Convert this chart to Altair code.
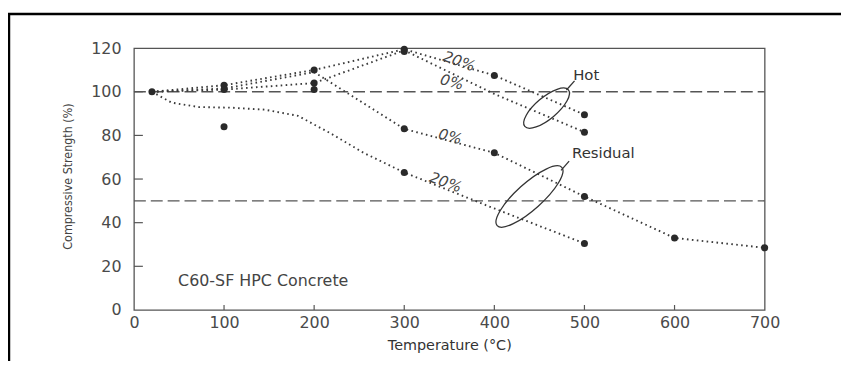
import altair as alt
import pandas as pd

# ---- data ----
hot20_t = [20, 100, 200, 300, 400, 500]
hot20_s = [100, 103, 110, 119.5, 107.5, 89.5]
hot0_t = [20, 100, 200, 300, 400, 500]
hot0_s = [100, 101, 104, 119, 99, 81.5]
res0_t = [20, 100, 200, 300, 400, 500, 600, 700]
res0_s = [100, 101.5, 109, 83, 72, 52, 33, 28.5]
res20_t = [20, 42, 72, 108, 145, 182, 218, 255, 300, 400, 500]
res20_s = [100, 95, 93, 92.7, 91.8, 89, 81, 72, 63, 46.5, 30.5]

dot_t = [20, 100, 100, 100, 200, 200, 200, 300, 300, 300, 300, 400, 400, 500, 500, 500, 500, 600, 700]
dot_s = [100, 103, 101, 84, 110, 104, 101, 119.5, 118.5, 83, 63, 107.5, 72, 89.5, 81.5, 52, 30.5, 33, 28.5]

ref_levels = [100, 50]

x_ticks = [0, 100, 200, 300, 400, 500, 600, 700]
y_ticks = [0, 20, 40, 60, 80, 100, 120]

pct_text = ["20%", "0%", "0%", "20%"]
pct_t = [361, 353, 351, 346]
pct_s = [114, 104.5, 79.5, 58.5]
pct_angle = [20, 15, 15, 20]

group_text = ["Hot", "Residual"]
group_t = [502, 521]
group_s = [107.5, 72]

ell_hot_t, ell_hot_s = [458], [92.5]
ell_res_t, ell_res_s = [439], [52]

lead_t = [480, 474]
lead_t2 = [489, 483]
lead_s = [100.8, 64]
lead_s2 = [105, 68.2]

note = "C60-SF HPC Concrete"
note_t, note_s = [49], [13.3]

W, H = 636, 264
INK = "#3a3a3a"

# ---- tables ----
rows = []
for name, ts, ss in [("hot20", hot20_t, hot20_s), ("hot0", hot0_t, hot0_s),
                     ("res0", res0_t, res0_s), ("res20", res20_t, res20_s)]:
    for i, (t, s) in enumerate(zip(ts, ss)):
        rows.append({"series": name, "T": t, "S": s, "o": i})
lines_df = pd.DataFrame(rows)
dots_df = pd.DataFrame({"T": dot_t, "S": dot_s})
ref_df = pd.DataFrame({"S": ref_levels, "T": [0, 0], "T2": [700, 700]})
pct_df = pd.DataFrame({"txt": pct_text, "T": pct_t, "S": pct_s, "a": pct_angle})
grp_df = pd.DataFrame({"txt": group_text, "T": group_t, "S": group_s})
lead_df = pd.DataFrame({"T": lead_t, "T2": lead_t2, "S": lead_s, "S2": lead_s2})
note_df = pd.DataFrame({"txt": [note], "T": note_t, "S": note_s})
xt_df = pd.DataFrame({"T": x_ticks[1:-1]})
yt_df = pd.DataFrame({"S": y_ticks[1:-1]})

xs = alt.Scale(domain=[0, 700], nice=False, zero=False)
ys = alt.Scale(domain=[0, 120], nice=False, zero=False)
xax = alt.Axis(values=x_ticks, title="Temperature (°C)", grid=False, ticks=False, tickSize=0,
               domain=False, labelFont="DejaVu Sans", labelFontSize=16, labelColor="#4a4a4a",
               labelPadding=5, labelFlush=False, labelOverlap=False, format="d",
               titleFont="DejaVu Sans", titleFontSize=14.5, titleFontWeight="normal",
               titleColor="#333", titleBaseline="middle", titleY=36)
yax = alt.Axis(values=y_ticks, title="Compressive Strength (%)", grid=False, ticks=False, tickSize=0,
               domain=False, labelFont="DejaVu Sans", labelFontSize=16, labelColor="#4a4a4a",
               labelPadding=13, labelFlush=False, labelOverlap=False, format="d",
               titleFont="Liberation Sans Narrow, DejaVu Sans Condensed, Liberation Sans, Arial, sans-serif",
               titleFontSize=12.5, titleFontWeight="normal",
               titleColor="#444", titleBaseline="middle", titleX=-67, titleY=129, titleAngle=270)


def X(f="T"):
    return alt.X(f"{f}:Q", scale=xs, axis=xax)


def Y(f="S"):
    return alt.Y(f"{f}:Q", scale=ys, axis=yax)


ref = alt.Chart(ref_df).mark_rule(color="#555", strokeWidth=1.4, strokeDash=[12, 5]).encode(
    x=X(), x2="T2:Q", y=Y())

lines = alt.Chart(lines_df).mark_line(color=INK, strokeWidth=1.9, strokeDash=[1.6, 3.4], clip=False).encode(
    x=X(), y=Y(), detail="series:N", order="o:Q")

dots = alt.Chart(dots_df).mark_point(filled=True, shape="circle", size=50, color="#2a2a2a", opacity=1).encode(
    x=X(), y=Y())

ell_path_hot = "M -1 0 A 1 0.38 0 1 1 1 0 A 1 0.38 0 1 1 -1 0 Z"
ell_path_res = "M -1 0 A 1 0.3 0 1 1 1 0 A 1 0.3 0 1 1 -1 0 Z"
ell_hot = alt.Chart(pd.DataFrame({"T": ell_hot_t, "S": ell_hot_s})).mark_point(
    shape=ell_path_hot, filled=False, size=3300, angle=320, color="#333", strokeWidth=1.3, opacity=1).encode(
    x=X(), y=Y())
ell_res = alt.Chart(pd.DataFrame({"T": ell_res_t, "S": ell_res_s})).mark_point(
    shape=ell_path_res, filled=False, size=7700, angle=318, color="#333", strokeWidth=1.3, opacity=1).encode(
    x=X(), y=Y())

leads = alt.Chart(lead_df).mark_rule(color="#333", strokeWidth=1.3).encode(
    x=X(), x2="T2:Q", y=Y(), y2="S2:Q")

pct = alt.Chart(pct_df).mark_text(font="DejaVu Sans", fontSize=15, fontStyle="italic", color="#444").encode(
    x=X(), y=Y(), text="txt:N", angle=alt.Angle("a:Q", scale=None))

grp = alt.Chart(grp_df).mark_text(font="DejaVu Sans", fontSize=15, color="#333").encode(
    x=X(), y=Y(), text="txt:N")

note_m = alt.Chart(note_df).mark_text(font="DejaVu Sans", fontSize=16, color="#444", align="left").encode(
    x=X(), y=Y(), text="txt:N")

xticks = alt.Chart(xt_df).mark_rule(color="#555", strokeWidth=1.2).encode(
    x=X(), y=alt.value(H), y2=alt.value(H - 5))
yticks = alt.Chart(yt_df).mark_rule(color="#555", strokeWidth=1.2).encode(
    y=Y(), x=alt.value(0), x2=alt.value(9))

frame_left = alt.Chart(pd.DataFrame({"k": [0]})).mark_rule(color="black", strokeWidth=2.5).encode(
    x=alt.value(-126), y=alt.value(-35), y2=alt.value(330))
frame_top = alt.Chart(pd.DataFrame({"k": [0]})).mark_rule(color="black", strokeWidth=2.5).encode(
    x=alt.value(-127.2), x2=alt.value(720), y=alt.value(-34.5))

chart = alt.layer(
    ref, lines, dots, ell_hot, ell_res, leads, pct, grp, note_m, xticks, yticks, frame_left, frame_top
).properties(
    width=W, height=H,
    autosize=alt.AutoSizeParams(type="none"),
    padding={"left": 127, "top": 39, "right": 77, "bottom": 50},
    background="white",
).configure_view(stroke="#555", strokeWidth=1.3)

chart.save("out.html", embed_options={"renderer": "svg", "actions": False})
